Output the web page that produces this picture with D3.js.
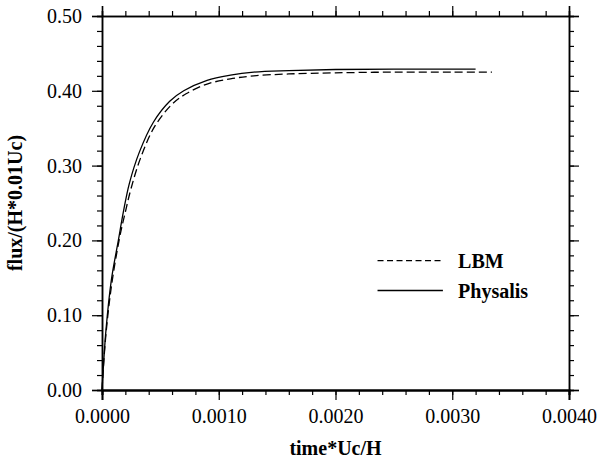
<!DOCTYPE html>
<html><head><meta charset="utf-8">
<script src="https://cdn.jsdelivr.net/npm/d3@7"></script>
<style>
body{margin:0;background:#fff;}
svg{display:block;}
</style></head>
<body><svg id="chart" width="598" height="468"></svg>
<script>
// Data
const lbmTime  = [0, 0.00003, 0.00008, 0.00015, 0.0002, 0.00025, 0.00033, 0.00045, 0.0006, 0.00072, 0.0009, 0.0011, 0.0013, 0.0016, 0.002, 0.0025, 0.003, 0.00334];
const lbmFlux  = [0, 0.068, 0.138, 0.203, 0.238, 0.270, 0.310, 0.352, 0.382, 0.396, 0.409, 0.416, 0.420, 0.4225, 0.424, 0.425, 0.425, 0.425];
const physTime = [0, 0.000034, 0.00008, 0.00014, 0.000183, 0.000234, 0.00032, 0.00044, 0.00058, 0.0007, 0.0009, 0.0011, 0.0013, 0.0016, 0.002, 0.0025, 0.0032];
const physFlux = [0, 0.08, 0.147, 0.200, 0.238, 0.276, 0.318, 0.358, 0.386, 0.400, 0.414, 0.421, 0.425, 0.427, 0.4285, 0.429, 0.429];
const xTicks = [0, 0.001, 0.002, 0.003, 0.004];
const xTickLabels = ["0.0000", "0.0010", "0.0020", "0.0030", "0.0040"];
const yTicks = [0, 0.1, 0.2, 0.3, 0.4, 0.5];
const yTickLabels = ["0.00", "0.10", "0.20", "0.30", "0.40", "0.50"];
const seriesNames = ["LBM", "Physalis"];
const xTitle = "time*Uc/H";
const yTitle = "flux/(H*0.01Uc)";

const FONT = "Liberation Serif";
const svg = d3.select("#chart");
const m = {left:102, top:16, right:569, bottom:390};
const x = d3.scaleLinear().domain([0, 0.004]).range([m.left, m.right]);
const y = d3.scaleLinear().domain([0, 0.5]).range([m.bottom, m.top]);

const xMinor = d3.range(0, 0.00401, 0.0002);
const yMinor = d3.range(0, 0.5001, 0.02);

function styleAxis(g, w){
  g.attr("font-family", null).attr("font-size", null);
  g.selectAll(".domain").attr("stroke","#000").attr("stroke-width",w);
  g.selectAll(".tick line").attr("stroke","#000").attr("stroke-width",1.2);
  g.selectAll("text").attr("font-family", FONT).attr("font-size", 20).attr("fill","#000");
}
svg.append("g").attr("transform",`translate(0,${m.bottom})`)
  .call(d3.axisBottom(x).tickValues(xMinor).tickSize(5).tickFormat(""))
  .call(g=>styleAxis(g,2));
svg.append("g").attr("transform",`translate(0,${m.top})`)
  .call(d3.axisTop(x).tickValues(xMinor).tickSize(5).tickFormat(""))
  .call(g=>styleAxis(g,1.5));
svg.append("g").attr("transform",`translate(${m.left},0)`)
  .call(d3.axisLeft(y).tickValues(yMinor).tickSize(5).tickFormat(""))
  .call(g=>styleAxis(g,1.5));
svg.append("g").attr("transform",`translate(${m.right},0)`)
  .call(d3.axisRight(y).tickValues(yMinor).tickSize(5).tickFormat(""))
  .call(g=>styleAxis(g,1.5));
svg.append("g").attr("transform",`translate(0,${m.bottom})`)
  .call(d3.axisBottom(x).tickValues(xTicks).tickSize(10).tickPadding(9).tickFormat((d,i)=>xTickLabels[i]))
  .call(g=>styleAxis(g,2));
svg.append("g").attr("transform",`translate(0,${m.top})`)
  .call(d3.axisTop(x).tickValues(xTicks).tickSize(10).tickFormat(""))
  .call(g=>styleAxis(g,1.5));
svg.append("g").attr("transform",`translate(${m.left},0)`)
  .call(d3.axisLeft(y).tickValues(yTicks).tickSize(10).tickPadding(10).tickFormat((d,i)=>yTickLabels[i]))
  .call(g=>styleAxis(g,1.5));
svg.append("g").attr("transform",`translate(${m.right},0)`)
  .call(d3.axisRight(y).tickValues(yTicks).tickSize(10).tickFormat(""))
  .call(g=>styleAxis(g,1.5));

const line = d3.line().x(d=>x(d[0])).y(d=>y(d[1])).curve(d3.curveCatmullRom.alpha(0.5));
svg.append("path").datum(lbmTime.map((t,i)=>[t,lbmFlux[i]]))
  .attr("d",line).attr("fill","none").attr("stroke","#000").attr("stroke-width",1.3).attr("stroke-dasharray","8,4");
svg.append("path").datum(physTime.map((t,i)=>[t,physFlux[i]]))
  .attr("d",line).attr("fill","none").attr("stroke","#000").attr("stroke-width",1.3);

const legY = [y(0.173), y(0.133)];
seriesNames.forEach((n,i)=>{
  svg.append("line").attr("x1",x(0.00236)).attr("x2",x(0.00292)).attr("y1",legY[i]).attr("y2",legY[i])
    .attr("stroke","#000").attr("stroke-width",1.3).attr("stroke-dasharray", i===0?"6,3.5":null);
  svg.append("text").attr("x",x(0.00305)).attr("y",legY[i]).attr("dy","0.35em").attr("font-family",FONT)
    .attr("font-size",20).attr("font-weight","bold").text(n);
});

svg.append("text").attr("x",x(0.002)).attr("y",455).attr("text-anchor","middle").attr("font-family",FONT)
  .attr("font-size",20).attr("font-weight","bold").text(xTitle);
svg.append("text").attr("transform",`translate(22,${y(0.25)}) rotate(-90)`).attr("text-anchor","middle").attr("font-family",FONT)
  .attr("font-size",20).attr("font-weight","bold").text(yTitle);
</script></body></html>
